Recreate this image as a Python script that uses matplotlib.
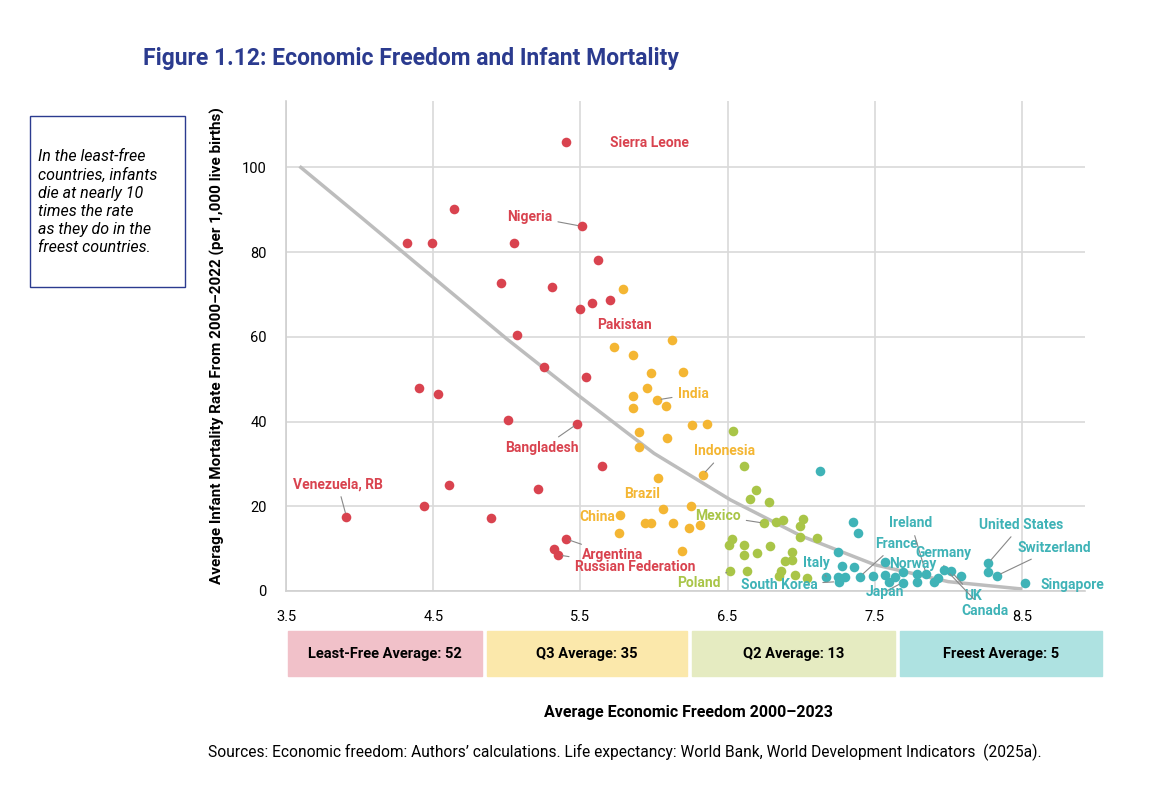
import numpy as np
import matplotlib
matplotlib.use('Agg')
import matplotlib.pyplot as plt
from matplotlib.patches import Rectangle

plt.rcParams['font.family'] = ['Roboto', 'DejaVu Sans']

# freedom score / infant mortality, one pair of lists per quartile
least_x = [5.40, 4.64, 4.32, 4.49, 5.05, 5.51, 5.62, 4.96, 5.31, 5.50, 5.58, 5.70, 5.07, 5.25,
           5.54, 4.40, 4.53, 5.01, 5.48, 5.65, 4.61, 5.21, 4.44, 3.91, 4.89, 5.40, 5.32, 5.35]
least_y = [106, 90.2, 82.1, 82.1, 82.1, 86.1, 78.2, 72.8, 71.8, 66.5, 67.9, 68.6, 60.5, 52.8,
           50.5, 48.0, 46.4, 40.4, 39.5, 29.5, 25.0, 24.1, 20.0, 17.5, 17.2, 12.3, 9.8, 8.5]
q3_x = [5.79, 6.12, 5.73, 5.86, 5.98, 6.20, 5.95, 5.86, 6.02, 6.08, 5.86, 6.26, 6.36, 5.90,
        6.09, 5.90, 6.33, 6.03, 6.06, 6.25, 5.77, 5.94, 5.98, 6.13, 6.24, 6.31, 5.76, 6.19]
q3_y = [71.4, 59.2, 57.6, 55.7, 51.5, 51.7, 47.9, 46.0, 45.1, 43.7, 43.3, 39.2, 39.4, 37.6,
        36.2, 34.0, 27.4, 26.6, 19.3, 20.0, 17.9, 16.0, 16.0, 16.1, 14.9, 15.6, 13.8, 9.4]
q2_x = [6.54, 6.61, 6.69, 6.65, 6.78, 6.75, 6.83, 6.88, 7.01, 6.99, 6.99, 7.11, 6.53, 6.51,
        6.61, 6.79, 6.61, 6.70, 6.94, 6.89, 6.94, 6.52, 6.63, 6.86, 6.85, 6.96, 7.04]
q2_y = [37.7, 29.4, 23.9, 21.6, 20.9, 16.0, 16.3, 16.7, 16.9, 15.4, 12.7, 12.6, 12.3, 10.8,
        10.8, 10.7, 8.6, 8.9, 9.3, 7.0, 7.4, 4.7, 4.7, 4.8, 3.5, 3.7, 3.0]
free_x = [7.13, 7.35, 7.39, 7.25, 7.28, 7.36, 7.17, 7.25, 7.26, 7.30, 7.40, 7.49, 7.57, 7.57,
          7.60, 7.64, 7.69, 7.69, 7.79, 7.79, 7.85, 7.90, 7.93, 7.97, 8.02, 8.09, 8.27, 8.27,
          8.33, 8.52]
free_y = [28.3, 16.3, 13.8, 9.1, 6.0, 5.6, 3.4, 3.2, 2.2, 3.4, 3.4, 3.5, 6.8, 3.7,
          2.1, 3.3, 4.4, 2.0, 4.0, 2.1, 4.0, 2.1, 3.0, 5.0, 4.6, 3.6, 6.5, 4.4,
          3.6, 1.8]

# points
trend_x = [3.60, 4.00, 4.50, 5.00, 5.50, 6.00, 6.52, 7.00, 7.50, 8.00, 8.49]
trend_y = [100, 88.5, 74.0, 59.5, 45.8, 32.5, 21.5, 13.0, 6.2, 2.2, 0.5]

averages = ['Least-Free Average: 52', 'Q3 Average: 35', 'Q2 Average: 13', 'Freest Average: 5']

# label, text x, text y, alignment, point x, point y (None = no leader line)
labels = [
    ('Sierra Leone', 5.70, 105.7, 'left', None, None, 0),
    ('Nigeria', 5.31, 88.4, 'right', 5.51, 86.1, 0),
    ('Pakistan', 5.80, 62.7, 'center', None, None, 0),
    ('Bangladesh', 5.24, 33.7, 'center', 5.48, 39.5, 0),
    ('Venezuela, RB', 3.85, 25.2, 'center', 3.91, 17.5, 0),
    ('Argentina', 5.51, 8.5, 'left', 5.40, 12.3, 0),
    ('Russian Federation', 5.46, 5.7, 'left', 5.35, 8.5, 0),
    ('India', 6.16, 46.5, 'left', 6.02, 45.1, 1),
    ('Indonesia', 6.48, 33.0, 'center', 6.33, 27.4, 1),
    ('Brazil', 5.92, 22.9, 'center', None, None, 1),
    ('China', 5.74, 17.5, 'right', None, None, 1),
    ('Mexico', 6.59, 17.7, 'right', 6.75, 16.0, 2),
    ('Poland', 6.45, 1.9, 'right', 6.52, 4.7, 2),
    ('Italy', 7.01, 6.6, 'left', 7.17, 3.4, 3),
    ('South Korea', 7.11, 1.4, 'right', 7.25, 2.2, 3),
    ('France', 7.50, 11.1, 'left', 7.40, 3.4, 3),
    ('Ireland', 7.60, 16.0, 'left', 7.85, 4.0, 3),
    ('Norway', 7.60, 6.4, 'left', None, None, 3),
    ('Germany', 7.78, 9.0, 'left', 7.97, 5.0, 3),
    ('Japan', 7.57, -0.2, 'center', 7.69, 2.0, 3),
    ('UK', 8.11, -1.2, 'left', 8.02, 4.6, 3),
    ('Canada', 8.09, -4.7, 'left', 7.99, 4.8, 3),
    ('United States', 8.21, 15.6, 'left', 8.27, 6.5, 3),
    ('Switzerland', 8.47, 10.1, 'left', 8.33, 3.6, 3),
    ('Singapore', 8.63, 1.4, 'left', None, None, 3),
]


def main():
    dot_colors = ['#d9434f', '#f4b633', '#a9c548', '#3fb3b7']
    box_colors = ['#f1c1c9', '#fbe8ab', '#e5ebc1', '#aee2e1']
    navy = '#2b3b8f'

    fig = plt.figure(figsize=(11.68, 8.08), dpi=100)
    ax = fig.add_axes([0.245, 0.2686, 0.684, 0.607])

    groups = [(least_x, least_y), (q3_x, q3_y), (q2_x, q2_y), (free_x, free_y)]
    for (gx, gy), c in zip(groups, dot_colors):
        ax.scatter(gx, gy, s=48, color=c, zorder=3, linewidths=0)

    # trend curve drawn through the readings
    ax.plot(trend_x, trend_y, color='#bdbdbd', lw=2.5, zorder=2, solid_joinstyle='round')

    for text, tx, ty, ha, px, py, g in labels:
        if px is None:
            ax.text(tx, ty, text, ha=ha, va='center', color=dot_colors[g],
                    fontsize=10, fontweight='bold', zorder=4, clip_on=False)
        else:
            ax.annotate(text, xy=(px, py), xytext=(tx, ty), ha=ha, va='center',
                        color=dot_colors[g], fontsize=10, fontweight='bold', zorder=4,
                        arrowprops=dict(arrowstyle='-', color='#888888', lw=0.8,
                                        shrinkA=2, shrinkB=3))

    ax.set_xlim(3.5, 8.93)
    ax.set_ylim(0, 115.8)
    ax.set_xticks([3.5, 4.5, 5.5, 6.5, 7.5, 8.5])
    ax.set_yticks([0, 20, 40, 60, 80, 100])
    ax.grid(color='#d9d9d9', lw=1.2)
    ax.set_axisbelow(True)
    for side in ['top', 'right']:
        ax.spines[side].set_visible(False)
    for side in ['left', 'bottom']:
        ax.spines[side].set_color('#d0d0d0')
        ax.spines[side].set_linewidth(1.2)
    ax.tick_params(length=0, labelsize=10.5, pad=14)
    ax.set_ylabel('Average Infant Mortality Rate From 2000–2022 (per 1,000 live births)',
                  fontsize=11, fontweight='bold', labelpad=12)

    # quartile average boxes under the axis
    spans = [(288, 482), (487, 687), (692, 895), (900, 1102)]
    for (x0, x1), c, t in zip(spans, box_colors, averages):
        fig.patches.append(Rectangle((x0 / 1168, 1 - 676 / 808), (x1 - x0) / 1168, 45 / 808,
                                     transform=fig.transFigure, color=c))
        fig.text((x0 + x1) / 2 / 1168, 1 - 654 / 808, t, ha='center', va='center',
                 fontsize=10.5, fontweight='bold')

    fig.text(688 / 1168, 1 - 712 / 808, 'Average Economic Freedom 2000–2023',
             ha='center', va='center', fontsize=11.5, fontweight='bold')
    fig.text(625 / 1168, 1 - 752 / 808, 'Sources: Economic freedom: Authors’ calculations. '
             'Life expectancy: World Bank, World Development Indicators  (2025a).',
             ha='center', va='center', fontsize=11.2)
    fig.text(143 / 1168, 1 - 58 / 808, 'Figure 1.12: Economic Freedom and Infant Mortality',
             ha='left', va='center', fontsize=16.5, fontweight='bold', color=navy)

    # callout box on the left
    fig.patches.append(Rectangle((30 / 1168, 1 - 287 / 808), 155 / 1168, 171 / 808,
                                 transform=fig.transFigure, fill=False, ec=navy, lw=1))
    fig.text(38 / 1168, 1 - 202 / 808, 'In the least-free\ncountries, infants\ndie at nearly 10\n'
             'times the rate\nas they do in the\nfreest countries.', ha='left', va='center',
             fontsize=11.5, style='italic', linespacing=1.25)

    fig.savefig('out.png', dpi=100)


main()
